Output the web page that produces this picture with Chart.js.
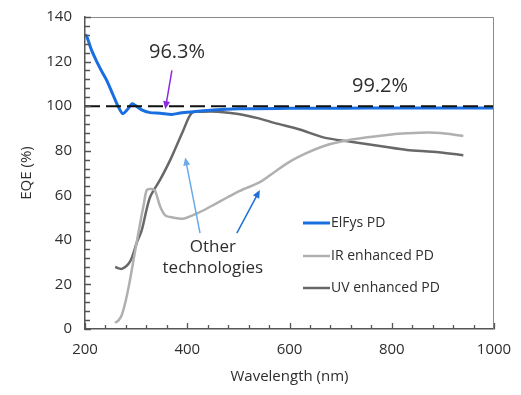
<!DOCTYPE html>
<html>
<head>
<meta charset="utf-8">
<script src="https://cdn.jsdelivr.net/npm/chart.js@4.4.0/dist/chart.umd.min.js"></script>
<style>
  html, body { margin: 0; padding: 0; background: #fff; }
</style>
</head>
<body>
<canvas id="chart" width="521" height="395"></canvas>
<script>
// wavelength (nm) / EQE (%)
const elfysNm = [200, 203, 213, 223, 233, 242, 255, 265, 274, 282, 292, 298, 311, 327, 347, 370, 386, 412, 450, 500, 600, 700, 800, 900, 1000]
const elfysEqe = [132, 131.5, 125, 120, 115.5, 111.8, 105, 99.8, 96.6, 98.3, 101, 100.4, 98.3, 97.1, 96.8, 96.3, 96.9, 97.5, 98.3, 98.8, 99, 99.1, 99.2, 99.2, 99.2]

const irNm = [259, 266, 272, 280, 288, 298, 308, 315, 321, 330, 337, 347, 357, 372, 392, 410, 425, 450, 478, 503, 543, 568, 600, 634, 666, 699, 752, 800, 830, 870, 895, 920, 940]
const irEqe = [2.7, 4, 6.3, 13, 22, 35, 47.6, 56, 62.4, 62.8, 62, 55, 51, 50, 49.5, 51, 52.5, 55.5, 59, 62, 66, 70, 75, 79, 82, 84, 86, 87.3, 87.8, 88.2, 88, 87.3, 86.6]

const uvNm = [259, 272, 288, 301, 311, 327, 347, 367, 392, 409, 430, 460, 500, 540, 570, 620, 666, 720, 780, 830, 880, 940]
const uvEqe = [27.8, 27, 30.2, 38.6, 44.4, 59, 67, 76, 89, 97, 97.5, 97.5, 96.5, 94.5, 92.5, 89.5, 86, 84, 82, 80.3, 79.5, 78]

const seriesNames = ['ElFys PD', 'IR enhanced PD', 'UV enhanced PD']
const referenceNm = [200, 1000]
const referenceEqe = [100, 100]

const xTicks = [200, 400, 600, 800, 1000]
const yTicks = [0, 20, 40, 60, 80, 100, 120, 140]

const FONT = '"Open Sans", Lato, sans-serif'
const TEXT = '#2e2e2e'

function points(xs, ys) {
  return xs.map((x, i) => ({ x: x, y: ys[i] }))
}

// annotations in data coordinates
const notes = [
  { text: '96.3%', x: 380, y: 124, size: 20 },
  { text: '99.2%', x: 777, y: 108.8, size: 20 },
  { text: 'Other', x: 450, y: 36.8, size: 17 },
  { text: 'technologies', x: 450, y: 27.2, size: 17 },
]
const arrows = [
  { from: [370, 116], to: [357, 98.6], color: '#8a2be2' },
  { from: [425, 43], to: [396, 77], color: '#6aaae8' },
  { from: [497, 43], to: [542, 62.4], color: '#1f6fd6' },
]

const frame = {
  id: 'frame',
  afterDatasetsDraw(chart) {
    const { ctx, chartArea: a, scales } = chart
    const xs = scales.x
    const ys = scales.y
    ctx.save()

    // top and right border
    ctx.strokeStyle = '#8a8a8a'
    ctx.lineWidth = 1
    ctx.beginPath()
    ctx.moveTo(a.left, a.top + 0.5)
    ctx.lineTo(a.right - 0.5, a.top + 0.5)
    ctx.lineTo(a.right - 0.5, a.bottom)
    ctx.stroke()

    // inward ticks
    ctx.strokeStyle = '#555'
    ctx.lineWidth = 1.3
    ctx.beginPath()
    for (let v = 0; v <= 140; v += 4) {
      const py = Math.round(ys.getPixelForValue(v)) + 0.5
      const len = v % 20 === 0 ? 6 : 5
      ctx.moveTo(a.left, py)
      ctx.lineTo(a.left + len, py)
    }
    for (let v = 200; v <= 1000; v += 40) {
      const px = Math.round(xs.getPixelForValue(v)) + 0.5
      const len = v % 200 === 0 ? 6 : 4
      ctx.moveTo(px, a.bottom)
      ctx.lineTo(px, a.bottom - len)
    }
    ctx.stroke()

    // notes
    ctx.fillStyle = TEXT
    ctx.textAlign = 'center'
    ctx.textBaseline = 'middle'
    notes.forEach((n) => {
      ctx.font = `${n.size}px ${FONT}`
      ctx.fillText(n.text, xs.getPixelForValue(n.x), ys.getPixelForValue(n.y))
    })

    // arrows
    arrows.forEach((ar) => {
      const x1 = xs.getPixelForValue(ar.from[0])
      const y1 = ys.getPixelForValue(ar.from[1])
      const x2 = xs.getPixelForValue(ar.to[0])
      const y2 = ys.getPixelForValue(ar.to[1])
      const ang = Math.atan2(y2 - y1, x2 - x1)
      ctx.strokeStyle = ar.color
      ctx.fillStyle = ar.color
      ctx.lineWidth = 1.5
      ctx.beginPath()
      ctx.moveTo(x1, y1)
      ctx.lineTo(x2 - 5 * Math.cos(ang), y2 - 5 * Math.sin(ang))
      ctx.stroke()
      ctx.beginPath()
      ctx.moveTo(x2, y2)
      ctx.lineTo(x2 - 8 * Math.cos(ang) + 3.5 * Math.sin(ang), y2 - 8 * Math.sin(ang) - 3.5 * Math.cos(ang))
      ctx.lineTo(x2 - 8 * Math.cos(ang) - 3.5 * Math.sin(ang), y2 - 8 * Math.sin(ang) + 3.5 * Math.cos(ang))
      ctx.closePath()
      ctx.fill()
    })

    // legend
    ctx.font = `14px ${FONT}`
    ctx.textAlign = 'left'
    ctx.textBaseline = 'middle'
    const rows = [223, 256, 288]
    chart.data.datasets
      .filter((d) => seriesNames.includes(d.label))
      .forEach((d, i) => {
        ctx.strokeStyle = d.borderColor
        ctx.lineWidth = d.borderWidth
        ctx.beginPath()
        ctx.moveTo(303, rows[i])
        ctx.lineTo(330, rows[i])
        ctx.stroke()
        ctx.fillStyle = TEXT
        ctx.fillText(d.label, 331, rows[i])
      })
    ctx.restore()
  },
}

new Chart(document.getElementById('chart'), {
  type: 'line',
  data: {
    datasets: [
      {
        label: 'reference',
        data: points(referenceNm, referenceEqe),
        borderColor: '#111111',
        borderWidth: 2,
        borderDash: [15, 6],
        pointRadius: 0,
      },
      {
        label: seriesNames[0],
        data: points(elfysNm, elfysEqe),
        borderColor: '#1a6fe0',
        borderWidth: 3,
        pointRadius: 0,
        tension: 0.3,
      },
      {
        label: seriesNames[1],
        data: points(irNm, irEqe),
        borderColor: '#b0b0b0',
        borderWidth: 2.5,
        pointRadius: 0,
        tension: 0.3,
      },
      {
        label: seriesNames[2],
        data: points(uvNm, uvEqe),
        borderColor: '#686868',
        borderWidth: 2.5,
        pointRadius: 0,
        tension: 0.3,
      },
    ],
  },
  options: {
    responsive: false,
    animation: false,
    layout: { padding: { top: 17, right: 27, left: 0, bottom: 0 } },
    plugins: {
      legend: { display: false },
      tooltip: { enabled: false },
    },
    scales: {
      x: {
        type: 'linear',
        min: 200,
        max: 1000,
        afterFit: (s) => {
          s.height = 66
          s.paddingLeft = 0
          s.paddingRight = 0
        },
        afterBuildTicks: (s) => { s.ticks = xTicks.map((v) => ({ value: v })) },
        grid: { display: true, drawOnChartArea: false, drawTicks: false },
        border: { color: '#555', width: 1.5 },
        ticks: { padding: 12, color: TEXT, font: { family: FONT, size: 15 }, callback: (v) => String(v) },
        title: {
          display: true,
          text: 'Wavelength (nm)',
          color: TEXT,
          font: { family: FONT, size: 15 },
          padding: { top: 0, bottom: 9 },
        },
      },
      y: {
        min: 0,
        max: 140,
        afterFit: (s) => {
          s.width = 85
          s.paddingTop = 0
          s.paddingBottom = 0
        },
        afterBuildTicks: (s) => { s.ticks = yTicks.map((v) => ({ value: v })) },
        grid: { display: true, drawOnChartArea: false, drawTicks: false },
        border: { color: '#555', width: 1.5 },
        ticks: { padding: 13, color: TEXT, font: { family: FONT, size: 15 }, callback: (v) => String(v) },
        title: {
          display: true,
          text: 'EQE (%)',
          color: TEXT,
          font: { family: FONT, size: 15 },
          padding: { top: 18, bottom: 0 },
        },
      },
    },
  },
  plugins: [frame],
})
</script>
</body>
</html>
